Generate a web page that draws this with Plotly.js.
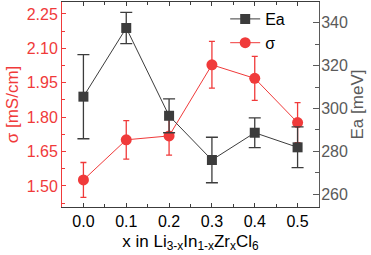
<!DOCTYPE html>
<html><head><meta charset="utf-8">
<script src="https://cdn.plot.ly/plotly-3.0.1.min.js"></script>
<style>html,body{margin:0;padding:0;background:#fff}#c{width:371px;height:255px}</style>
</head><body><div id="c"></div>
<script>
const xVals = [0.0, 0.1, 0.2, 0.3, 0.4, 0.5];
const sigma = [1.526, 1.701, 1.718, 2.028, 1.969, 1.776];
const sigmaErr = [0.076, 0.084, 0.084, 0.102, 0.096, 0.087];
const ea = [305.5, 337.5, 296.6, 276.0, 288.7, 281.9];
const eaErr = [19.6, 7.3, 7.9, 10.6, 6.9, 9.5];
const xTicks = [0.0, 0.1, 0.2, 0.3, 0.4, 0.5];
const xTickText = ['0.0', '0.1', '0.2', '0.3', '0.4', '0.5'];
const sigmaTicks = [1.50, 1.65, 1.80, 1.95, 2.10, 2.25];
const sigmaTickText = ['1.50', '1.65', '1.80', '1.95', '2.10', '2.25'];
const eaTicks = [260, 280, 300, 320, 340];

const RED = '#f03a3a';
const DARK = '#3c3c3c';
const GRAY = '#5a5a5a';
const FONT = 'Liberation Sans, Arial, sans-serif';

const traces = [
  {
    x: xVals, y: ea, yaxis: 'y2', name: 'Ea', type: 'scatter', mode: 'lines+markers',
    line: {color: DARK, width: 1},
    marker: {symbol: 'square', size: 10, color: DARK},
    error_y: {type: 'data', array: eaErr, visible: true, color: DARK, thickness: 1.3, width: 6}
  },
  {
    x: xVals, y: sigma, yaxis: 'y', name: 'σ', type: 'scatter', mode: 'lines+markers',
    line: {color: RED, width: 1},
    marker: {symbol: 'circle', size: 11, color: RED},
    error_y: {type: 'data', array: sigmaErr, visible: true, color: RED, thickness: 1.3, width: 3}
  }
];

const layout = {
  width: 371, height: 255,
  margin: {l: 62, r: 52, t: 2, b: 48},
  paper_bgcolor: '#fff', plot_bgcolor: '#fff',
  font: {family: FONT, size: 16, color: '#000'},
  showlegend: true,
  legend: {x: 0.635, y: 1.0, xanchor: 'left', yanchor: 'top', bgcolor: 'rgba(0,0,0,0)',
           font: {family: FONT, size: 16, color: '#000'}, itemwidth: 30, tracegroupgap: 0},
  xaxis: {
    range: [-0.05, 0.55], tickvals: xTicks, ticktext: xTickText,
    showgrid: false, zeroline: false, showline: true, linecolor: DARK, linewidth: 1,
    mirror: 'ticks', ticks: 'inside', ticklen: 4, tickcolor: DARK,
    minor: {dtick: 0.05, tick0: 0.05, ticks: 'inside', ticklen: 3, tickcolor: DARK},
    tickfont: {family: FONT, size: 16, color: '#000'},
    title: {text: 'x in Li<sub>3-x</sub>In<sub>1-x</sub>Zr<sub>x</sub>Cl<sub>6</sub>',
            font: {family: FONT, size: 17, color: '#000'}, standoff: 5}
  },
  yaxis: {
    range: [1.408, 2.302], tickvals: sigmaTicks, ticktext: sigmaTickText,
    showgrid: false, zeroline: false, showline: true, linecolor: RED, linewidth: 1,
    ticks: 'inside', ticklen: 4, tickcolor: RED,
    minor: {dtick: 0.075, tick0: 1.425, ticks: 'inside', ticklen: 3, tickcolor: RED},
    tickfont: {family: FONT, size: 16, color: RED},
    title: {text: 'σ [mS/cm]', font: {family: FONT, size: 17, color: RED}, standoff: 3}
  },
  yaxis2: {
    overlaying: 'y', side: 'right', range: [254.1, 349.6], tickvals: eaTicks,
    showgrid: false, zeroline: false, showline: true, linecolor: GRAY, linewidth: 1,
    ticks: 'inside', ticklen: 6, tickcolor: GRAY, ticklabelstandoff: -2,
    minor: {dtick: 10, tick0: 250, ticks: 'inside', ticklen: 4, tickcolor: GRAY},
    tickfont: {family: FONT, size: 16, color: GRAY},
    title: {text: 'Ea [meV]', font: {family: FONT, size: 17, color: GRAY}, standoff: 4}
  }
};

Plotly.newPlot('c', traces, layout, {displayModeBar: false, staticPlot: true});
</script>
</body></html>
